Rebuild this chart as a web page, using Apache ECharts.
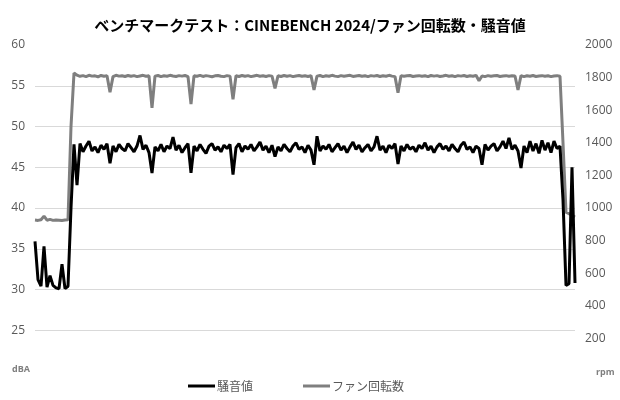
<!DOCTYPE html>
<html>
<head>
<meta charset="utf-8">
<script src="https://cdn.jsdelivr.net/npm/echarts@6/dist/echarts.min.js"></script>
<style>
  html, body { margin: 0; padding: 0; background: #fff; }
  #chart { width: 620px; height: 400px; }
</style>
</head>
<body>
<div id="chart"></div>
<script>
// sample index (time steps), no labels on the x axis
const noise = [
  35.9, 31.2, 30.4, 35.3, 30.3, 31.7, 30.5, 30.2, 30.1, 33.1,
  30.1, 30.4, 40.0, 47.8, 42.8, 47.9, 46.9, 47.6, 48.2, 47.0,
  47.5, 46.8, 47.7, 47.2, 47.9, 45.5, 47.6, 46.9, 47.8, 47.3,
  47.0, 47.9, 47.4, 46.9, 47.6, 48.9, 47.2, 47.7, 46.8, 44.3,
  47.5, 47.0, 47.8, 46.9, 47.6, 47.3, 48.7, 47.1, 47.7, 46.8,
  47.4, 47.9, 44.3, 47.6, 47.0, 47.8, 47.2, 46.7, 47.6, 47.9,
  47.1, 47.5, 46.9, 47.7, 47.3, 47.8, 44.1, 47.4, 47.9, 46.9,
  47.6, 47.2, 47.8, 47.0, 47.5, 48.1, 47.1, 47.6, 46.8, 47.7,
  46.3, 47.5, 47.0, 47.8, 47.3, 46.9, 47.6, 48.0, 47.2, 47.5,
  46.8, 47.7, 47.1, 45.3, 48.8, 47.0, 47.6, 47.2, 47.8, 46.9,
  47.4, 47.9, 47.1, 47.6, 46.8, 47.5, 48.1, 47.2, 47.7, 46.9,
  47.4, 47.8, 47.0, 47.5, 48.8, 47.1, 47.6, 46.8, 47.7, 47.3,
  47.9, 45.4, 47.6, 47.0, 47.8, 47.2, 47.5, 46.9, 47.7, 47.3,
  48.0, 47.1, 47.6, 46.8, 47.5, 47.9, 47.2, 47.6, 47.0, 47.8,
  47.3, 46.9, 47.7, 48.1, 47.2, 47.5, 46.8, 47.6, 47.3, 45.3,
  47.8, 47.1, 47.6, 47.9, 47.0, 47.5, 48.2, 47.3, 48.6, 47.2,
  47.7, 47.0, 44.9, 47.6, 46.8, 48.2, 47.0, 47.9, 46.7, 48.3,
  47.1, 48.0, 46.8, 48.2, 47.3, 47.6, 41.0, 30.5, 30.7, 45.0,
  30.8
];
const fanRpm = [
  926, 924, 928, 950, 925, 930, 924, 927, 925, 923,
  926, 928, 1500, 1828, 1815, 1808, 1812, 1806, 1814, 1809,
  1811, 1805, 1813, 1808, 1812, 1710, 1806, 1814, 1809, 1811,
  1807, 1813, 1808, 1812, 1806, 1810, 1814, 1808, 1811, 1615,
  1809, 1813, 1806, 1811, 1808, 1814, 1810, 1807, 1812, 1809,
  1813, 1806, 1638, 1811, 1808, 1814, 1807, 1812, 1809, 1805,
  1811, 1813, 1808, 1806, 1812, 1809, 1667, 1811, 1807, 1813,
  1808, 1812, 1806, 1810, 1814, 1808, 1811, 1807, 1812, 1809,
  1734, 1811, 1807, 1813, 1808, 1812, 1806, 1810, 1813, 1808,
  1811, 1807, 1812, 1724, 1809, 1813, 1806, 1811, 1808, 1814,
  1809, 1806, 1812, 1808, 1811, 1814, 1807, 1810, 1813, 1808,
  1811, 1806, 1812, 1809, 1813, 1807, 1811, 1808, 1814, 1809,
  1806, 1707, 1812, 1808, 1811, 1813, 1807, 1810, 1812, 1808,
  1811, 1806, 1813, 1809, 1812, 1807, 1810, 1814, 1808, 1811,
  1806, 1812, 1809, 1813, 1807, 1811, 1808, 1814, 1781, 1810,
  1806, 1812, 1808, 1811, 1813, 1807, 1810, 1812, 1808, 1811,
  1810, 1724, 1812, 1806, 1811, 1808, 1813, 1807, 1810, 1812,
  1808, 1811, 1806, 1810, 1812, 1808, 1400, 975, 965, 955,
  945
];
const steps = noise.map((v, i) => i);

const titleText = "ベンチマークテスト：CINEBENCH 2024/ファン回転数・騒音値";
const labelFont = "'Open Sans', 'Noto Sans CJK JP', sans-serif";

const chart = echarts.init(document.getElementById("chart"));
const option = {
  animation: false,
  backgroundColor: "#ffffff",
  title: {
    text: titleText,
    left: "center",
    top: 13,
    textStyle: {
      fontFamily: "'Noto Sans CJK JP', sans-serif",
      fontSize: 15,
      fontWeight: "bold",
      color: "#000000",
    },
  },
  grid: { left: 35, right: 45, top: 45, bottom: 29 },
  legend: {
    left: 183,
    bottom: 3,
    itemGap: 50,
    itemWidth: 27,
    itemHeight: 3,
    icon: "rect",
    textStyle: { fontFamily: "'Noto Sans CJK JP', sans-serif", fontSize: 12, color: "#595959", padding: [0, 0, 0, -3] },
    data: ["騒音値", "ファン回転数"],
  },
  graphic: [
    { type: "text", left: 12, top: 365, style: { text: "dBA", fontSize: 9, fontWeight: "bold", fill: "#7f7f7f", fontFamily: labelFont } },
    { type: "text", left: 596, top: 368, style: { text: "rpm", fontSize: 9, fontWeight: "bold", fill: "#7f7f7f", fontFamily: labelFont } },
  ],
  xAxis: {
    type: "category",
    data: steps,
    boundaryGap: false,
    axisLine: { show: false },
    axisTick: { show: false },
    axisLabel: { show: false },
    splitLine: { show: false },
  },
  yAxis: [
    {
      type: "value",
      min: 20,
      max: 60,
      interval: 5,
      axisLine: { show: false },
      axisTick: { show: false },
      axisLabel: { showMinLabel: false, margin: 10, fontSize: 12, color: "#595959", fontFamily: labelFont },
      splitLine: { show: true, showMinLine: false, showMaxLine: false, lineStyle: { color: "#d9d9d9", width: 1 } },
    },
    {
      type: "value",
      min: 0,
      max: 2000,
      interval: 200,
      axisLine: { show: false },
      axisTick: { show: false },
      axisLabel: {
        showMinLabel: false,
        margin: 10,
        fontSize: 12,
        color: "#595959",
        fontFamily: labelFont,
        formatter: (v) => String(v),
      },
      splitLine: { show: false },
    },
  ],
  series: [
    {
      name: "騒音値",
      type: "line",
      data: noise,
      yAxisIndex: 0,
      symbol: "none",
      z: 3,
      itemStyle: { color: "#000000" },
      lineStyle: { color: "#000000", width: 3 },
    },
    {
      name: "ファン回転数",
      type: "line",
      data: fanRpm,
      yAxisIndex: 1,
      symbol: "none",
      z: 2,
      itemStyle: { color: "#7f7f7f" },
      lineStyle: { color: "#7f7f7f", width: 3 },
    },
  ],
};
chart.setOption(option);
</script>
</body>
</html>
